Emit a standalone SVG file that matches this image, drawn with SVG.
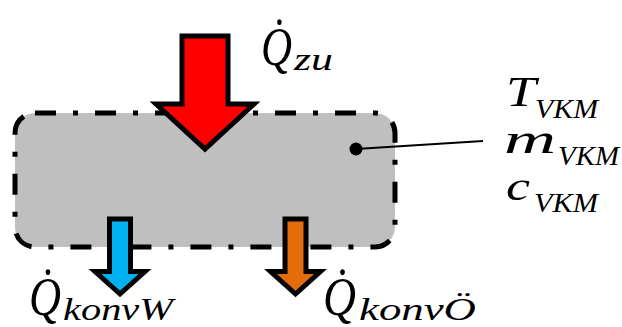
<svg xmlns="http://www.w3.org/2000/svg" width="622" height="327" viewBox="0 0 622 327">
<style>
.m{font-family:"Liberation Serif","DejaVu Serif",serif;font-style:italic;fill:#000}
.q{font-size:54px}
.mid{font-size:43px}
.sub{font-size:31px}
.vkm{font-size:28px}
.arr{stroke:#000;stroke-width:5;stroke-linejoin:miter;stroke-miterlimit:6}
</style>
<rect width="622" height="327" fill="#fff"/>
<g id="system">
<rect x="15" y="113" width="380" height="134" rx="20" ry="20" fill="#BFBFBF" stroke="#000" stroke-width="5" stroke-dasharray="21 17 5 17"/>
</g>
<g id="connectors">
<line x1="356" y1="149" x2="483" y2="141" stroke="#000" stroke-width="2"/>
<circle cx="356" cy="149" r="6.5" fill="#000"/>
</g>
<g id="arrow-zu">
<polygon class="arr" fill="#FF0000" points="182,36 228,36 228,104 254,104 205,149 156,104 182,104"/>
</g>
<g id="arrow-konvW">
<polygon class="arr" fill="#00B0F0" points="109.5,219 130.5,219 130.5,271.5 145,271.5 120,294 95,271.5 109.5,271.5"/>
</g>
<g id="arrow-konvOe">
<polygon class="arr" fill="#E46C0A" points="285,219 306,219 306,271.5 320.5,271.5 295.5,294 270.5,271.5 285,271.5"/>
</g>
<g id="label-zu">
<text class="m q" x="261" y="65" textLength="31" lengthAdjust="spacingAndGlyphs">Q&#x307;</text>
<text class="m sub" x="294" y="70" textLength="39" lengthAdjust="spacingAndGlyphs">zu</text>
</g>
<g id="label-props">
<text class="m mid" x="506" y="106" textLength="30" lengthAdjust="spacingAndGlyphs">T</text>
<text class="m vkm" x="535" y="118" textLength="63" lengthAdjust="spacingAndGlyphs">VKM</text>
<text class="m mid" x="504" y="153" textLength="52" lengthAdjust="spacingAndGlyphs">m</text>
<text class="m vkm" x="558" y="165" textLength="61" lengthAdjust="spacingAndGlyphs">VKM</text>
<text class="m mid" x="506" y="200" textLength="24" lengthAdjust="spacingAndGlyphs">c</text>
<text class="m vkm" x="534" y="212" textLength="64" lengthAdjust="spacingAndGlyphs">VKM</text>
</g>
<g id="label-konvW">
<text class="m q" x="29" y="315" textLength="32" lengthAdjust="spacingAndGlyphs">Q&#x307;</text>
<text class="m sub" x="63" y="320" textLength="110" lengthAdjust="spacingAndGlyphs">konvW</text>
</g>
<g id="label-konvOe">
<text class="m q" x="323" y="315" textLength="33" lengthAdjust="spacingAndGlyphs">Q&#x307;</text>
<text class="m sub" x="359" y="320" textLength="117" lengthAdjust="spacingAndGlyphs">konvÖ</text>
</g>
</svg>
